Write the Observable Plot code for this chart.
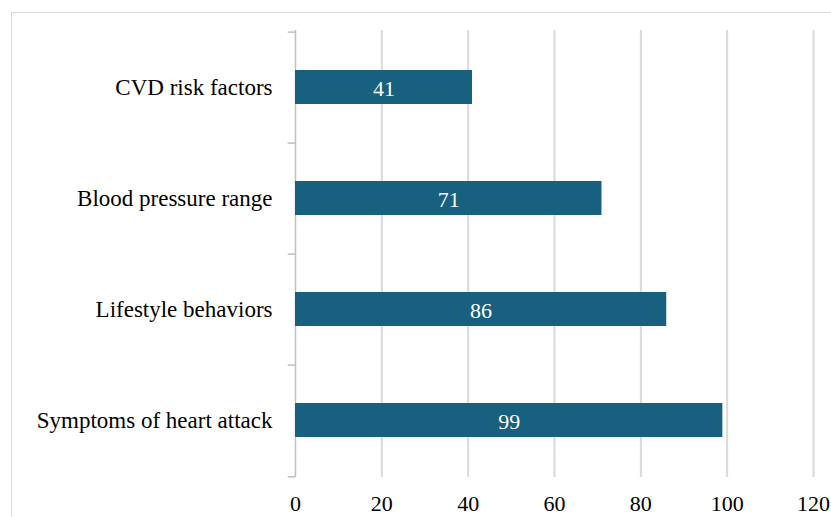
<!DOCTYPE html>
<html>
<head>
<meta charset="utf-8">
<script src="https://cdn.jsdelivr.net/npm/d3@7"></script>
<script src="https://cdn.jsdelivr.net/npm/@observablehq/plot@0.6"></script>
<style>
  body { margin: 0; background: #fff; }
  #wrap { position: relative; width: 831px; height: 517px; overflow: hidden; }
  #border { position: absolute; left: 11px; top: 12px; width: 840px; height: 540px; border-top: 1.5px solid #d9d9d9; border-left: 1.5px solid #d9d9d9; box-sizing: border-box; }
  #chart { position: absolute; left: 0; top: 0; }
</style>
</head>
<body>
<div id="wrap"><div id="border"></div><div id="chart"></div></div>
<script>
const categories = ["CVD risk factors", "Blood pressure range", "Lifestyle behaviors", "Symptoms of heart attack"];
const values = [41, 71, 86, 99];
const xTicks = [0, 20, 40, 60, 80, 100, 120];

const data = categories.map((c, i) => ({category: c, value: values[i]}));
const H = 517, mt = 30, mb = 40;
const step = (H - mt - mb) / categories.length;
const font = "'Liberation Serif', 'Times New Roman', serif";

const chart = Plot.plot({
  width: 831,
  height: H,
  marginLeft: 295,
  marginRight: 18,
  marginTop: mt,
  marginBottom: mb,
  style: {fontFamily: font, fontSize: "22px", color: "#000", background: "transparent"},
  x: {domain: [0, 120], ticks: xTicks},
  y: {domain: categories, padding: 0},
  marks: [
    Plot.ruleX(xTicks.filter(d => d > 0), {stroke: "#d9d9d9", strokeWidth: 2}),
    Plot.ruleX([0], {stroke: "#bfbfbf", strokeWidth: 1.5}),
    Plot.ruleY(categories, {y: d => d, x1: -1.7, x2: 0, dy: -step / 2, stroke: "#bfbfbf", strokeWidth: 1.5, clip: false}),
    Plot.ruleY(categories.slice(-1), {y: d => d, x1: -1.7, x2: 0, dy: step / 2, stroke: "#bfbfbf", strokeWidth: 1.5, clip: false}),
    Plot.barX(data, {x: "value", y: "category", fill: "#17607f", insetTop: 38, insetBottom: 39}),
    Plot.text(data, {x: d => d.value / 2, y: "category", text: d => String(d.value), fill: "#fff", fontSize: 22, fontFamily: font, dy: 1}),
    Plot.axisX({ticks: xTicks, tickSize: 0, tickPadding: 18, fontSize: 22, fontFamily: font, label: null}),
    Plot.axisY({tickSize: 0, tickPadding: 23, fontSize: 23, fontFamily: font, label: null})
  ]
});
document.getElementById("chart").appendChild(chart);
</script>
</body>
</html>
